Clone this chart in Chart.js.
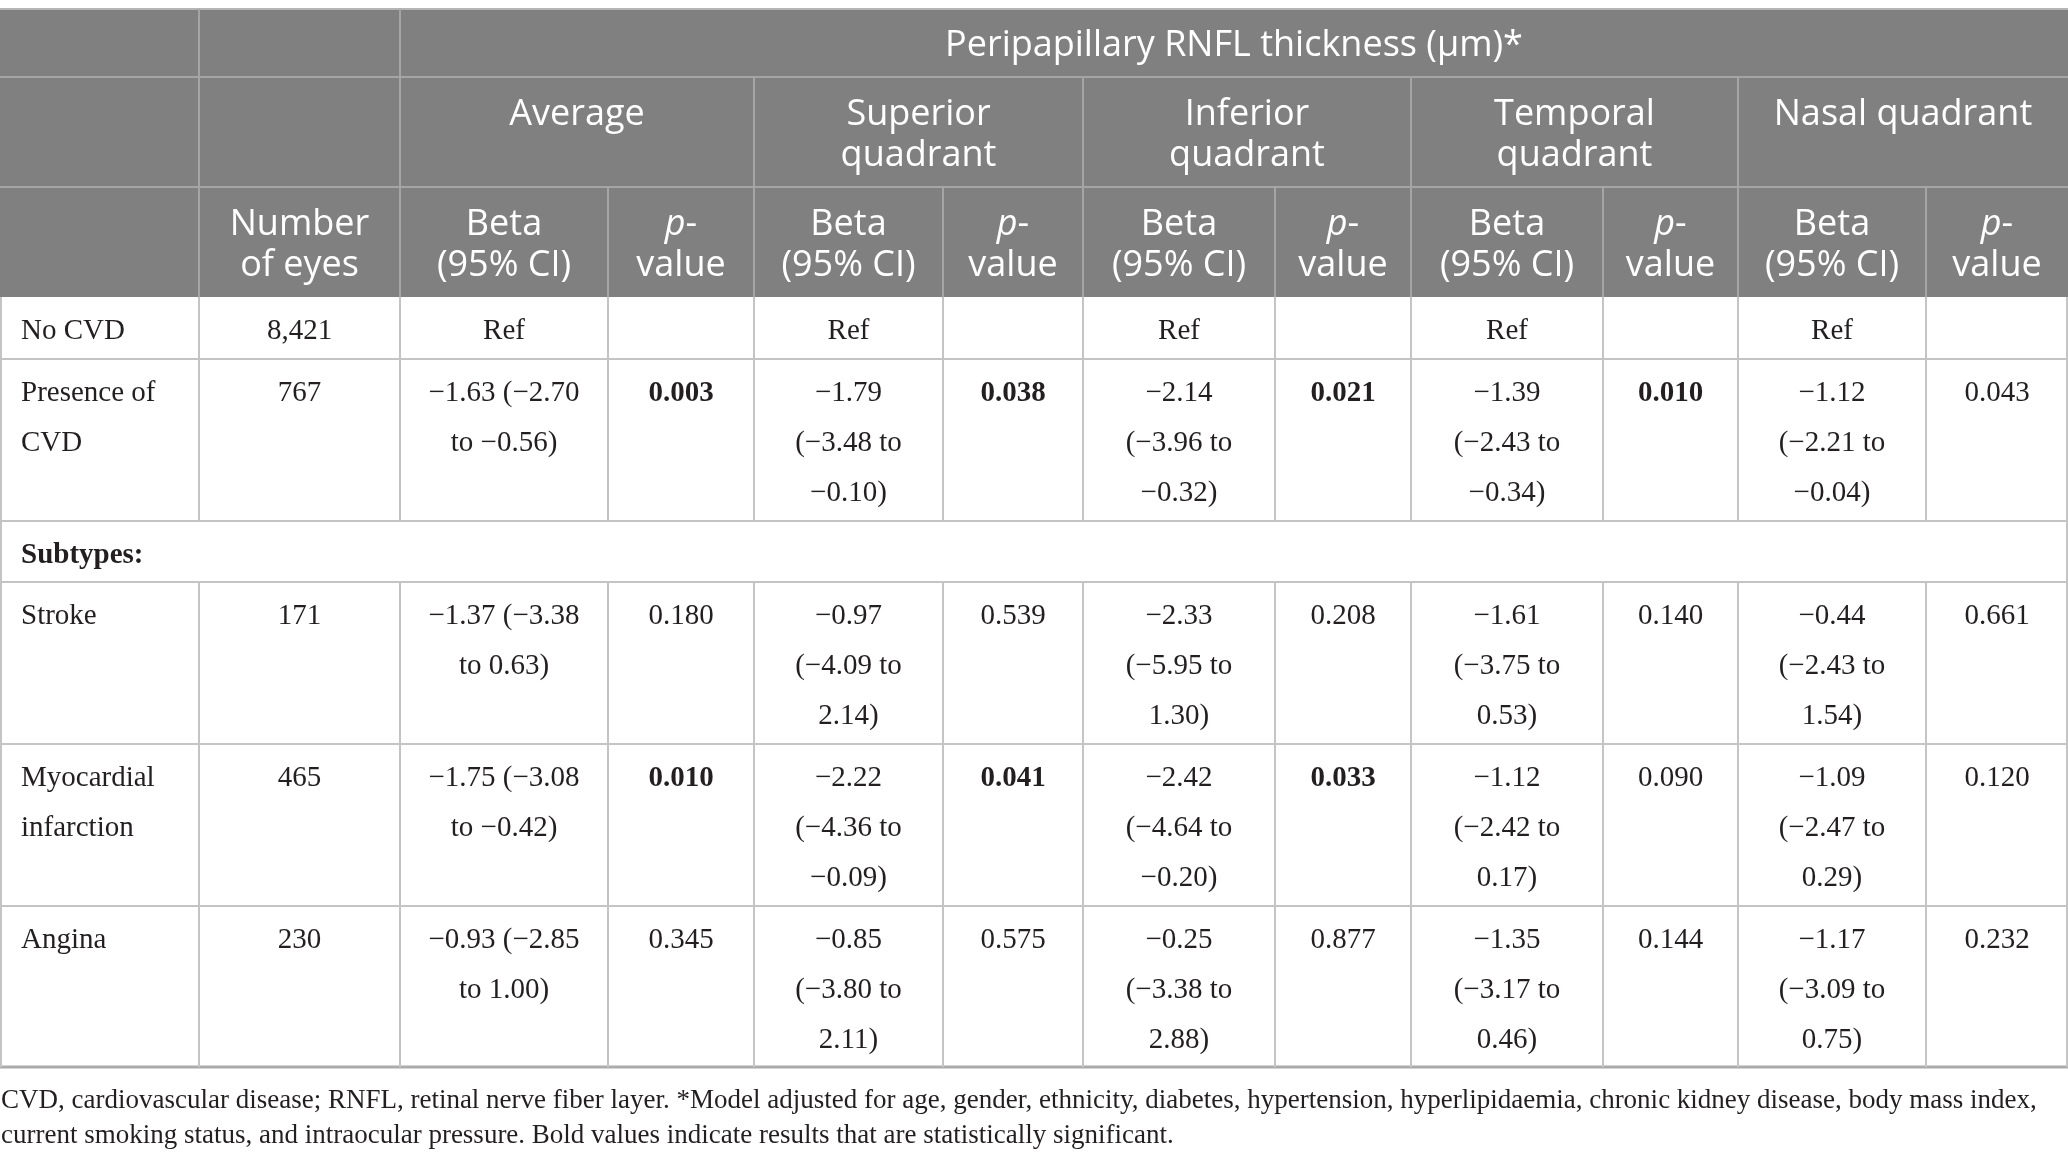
<!DOCTYPE html>
<html>
<head>
<meta charset="utf-8">
<script src="https://cdn.jsdelivr.net/npm/chart.js@4.4.1/dist/chart.umd.min.js"></script>
<style>
html, body { margin: 0; padding: 0; background: #ffffff; }
canvas { display: block; }
</style>
</head>
<body>
<canvas id="rnflTable" width="2068" height="1162"></canvas>
<script>
// Table text
var title = 'Peripapillary RNFL thickness (\u03bcm)*';
var quadrants = ['Average', 'Superior\nquadrant', 'Inferior\nquadrant', 'Temporal\nquadrant', 'Nasal quadrant'];
var groups = ['No CVD', 'Presence of\nCVD', 'Subtypes:', 'Stroke', 'Myocardial\ninfarction', 'Angina'];
var eyes = ['8,421', '767', '', '171', '465', '230'];

// Beta (95% CI) and p-values per quadrant
var avgBeta = ['Ref', '\u22121.63 (\u22122.70\nto \u22120.56)', '', '\u22121.37 (\u22123.38\nto 0.63)', '\u22121.75 (\u22123.08\nto \u22120.42)', '\u22120.93 (\u22122.85\nto 1.00)'];
var avgP = ['', '0.003', '', '0.180', '0.010', '0.345'];
var supBeta = ['Ref', '\u22121.79\n(\u22123.48 to\n\u22120.10)', '', '\u22120.97\n(\u22124.09 to\n2.14)', '\u22122.22\n(\u22124.36 to\n\u22120.09)', '\u22120.85\n(\u22123.80 to\n2.11)'];
var supP = ['', '0.038', '', '0.539', '0.041', '0.575'];
var infBeta = ['Ref', '\u22122.14\n(\u22123.96 to\n\u22120.32)', '', '\u22122.33\n(\u22125.95 to\n1.30)', '\u22122.42\n(\u22124.64 to\n\u22120.20)', '\u22120.25\n(\u22123.38 to\n2.88)'];
var infP = ['', '0.021', '', '0.208', '0.033', '0.877'];
var tempBeta = ['Ref', '\u22121.39\n(\u22122.43 to\n\u22120.34)', '', '\u22121.61\n(\u22123.75 to\n0.53)', '\u22121.12\n(\u22122.42 to\n0.17)', '\u22121.35\n(\u22123.17 to\n0.46)'];
var tempP = ['', '0.010', '', '0.140', '0.090', '0.144'];
var nasBeta = ['Ref', '\u22121.12\n(\u22122.21 to\n\u22120.04)', '', '\u22120.44\n(\u22122.43 to\n1.54)', '\u22121.09\n(\u22122.47 to\n0.29)', '\u22121.17\n(\u22123.09 to\n0.75)'];
var nasP = ['', '0.043', '', '0.661', '0.120', '0.232'];

// p-values printed in bold (statistically significant)
var avgSig = [0, 1, 0, 0, 1, 0];
var supSig = [0, 1, 0, 0, 1, 0];
var infSig = [0, 1, 0, 0, 1, 0];
var tempSig = [0, 1, 0, 0, 0, 0];
var nasSig = [0, 0, 0, 0, 0, 0];

var footnote = [
    'CVD, cardiovascular disease; RNFL, retinal nerve fiber layer. *Model adjusted for age, gender, ethnicity, diabetes, hypertension, hyperlipidaemia, chronic kidney disease, body mass index,',
    'current smoking status, and intraocular pressure. Bold values indicate results that are statistically significant.'
];

// Layout, in scale units (one unit per page pixel)
var colEdges = [0, 199, 400, 608, 754, 943, 1083, 1275, 1411, 1603, 1738, 1926, 2068];
var rowEdges = [9, 77, 187, 297, 359, 521, 582, 744, 906, 1067];
var headFont = '"Open Sans", "Noto Sans", sans-serif';
var bodyFont = '"Liberation Serif", "DejaVu Serif", serif';

var betas = [avgBeta, supBeta, infBeta, tempBeta, nasBeta];
var pvals = [avgP, supP, infP, tempP, nasP];
var sigs = [avgSig, supSig, infSig, tempSig, nasSig];

var tablePlugin = {
    id: 'tablePlugin',
    beforeDatasetsDraw: function (chart) {
        var ctx = chart.ctx;
        var xs = chart.scales.x, ys = chart.scales.y;
        function X(v) { return xs.getPixelForValue(v); }
        function Y(v) { return ys.getPixelForValue(v); }
        function hline(x0, x1, y, col, w) {
            ctx.strokeStyle = col; ctx.lineWidth = w;
            ctx.beginPath(); ctx.moveTo(X(x0), Y(y)); ctx.lineTo(X(x1), Y(y)); ctx.stroke();
        }
        function vline(x, y0, y1, col, w) {
            ctx.strokeStyle = col; ctx.lineWidth = w;
            ctx.beginPath(); ctx.moveTo(X(x), Y(y0)); ctx.lineTo(X(x), Y(y1)); ctx.stroke();
        }
        function lines(text, x0, x1, top, align, font, step, off) {
            ctx.font = font;
            ctx.textAlign = align;
            ctx.textBaseline = 'alphabetic';
            var tx = align === 'left' ? X(x0) + 21 : (X(x0) + X(x1)) / 2;
            text.split('\n').forEach(function (t, i) {
                ctx.fillText(t, tx, Y(top) + off + i * step);
            });
        }
        function pHead(x0, x1, top) {
            var cx = (X(x0) + X(x1)) / 2;
            ctx.font = 'italic 36px ' + headFont;
            var wp = ctx.measureText('p').width;
            ctx.font = '36px ' + headFont;
            var wd = ctx.measureText('-').width;
            var sx = cx - (wp + wd) / 2;
            ctx.textAlign = 'left';
            ctx.font = 'italic 36px ' + headFont;
            ctx.fillText('p', sx, Y(top) + 48);
            ctx.font = '36px ' + headFont;
            ctx.fillText('-', sx + wp, Y(top) + 48);
            ctx.textAlign = 'center';
            ctx.fillText('value', cx, Y(top) + 48 + 41);
        }

        var last = colEdges.length - 1;
        var hTop = rowEdges[0], hMid1 = rowEdges[1], hMid2 = rowEdges[2], hBot = rowEdges[3];

        // header background
        ctx.fillStyle = '#7f807f';
        ctx.fillRect(X(colEdges[0]), Y(hTop), X(colEdges[last]) - X(colEdges[0]), Y(hBot) - Y(hTop));

        // header rules
        var hc = '#a4a5a4';
        hline(colEdges[0], colEdges[last], hTop, '#b5b5b5', 2);
        hline(colEdges[0], colEdges[last], hMid1, hc, 2);
        hline(colEdges[0], colEdges[last], hMid2, hc, 2);
        [1, 2].forEach(function (c) { vline(colEdges[c], hTop, hMid1, hc, 2); });
        [1, 2, 4, 6, 8, 10].forEach(function (c) { vline(colEdges[c], hMid1, hMid2, hc, 2); });
        for (var c = 1; c < last; c++) vline(colEdges[c], hMid2, hBot, hc, 2);

        // body rules
        var bc = '#c4c4c4';
        for (var r = 4; r < rowEdges.length - 1; r++) hline(colEdges[0], colEdges[last], rowEdges[r], bc, 2);
        hline(colEdges[0], colEdges[last], rowEdges[rowEdges.length - 1], '#ababab', 3);
        for (var i = 0; i <= last; i++) {
            var x = i === 0 ? 1 : (i === last ? colEdges[last] - 1 : colEdges[i]);
            if (i === 0 || i === last) {
                vline(x, hBot, rowEdges[rowEdges.length - 1], bc, 2);
            } else {
                vline(x, hBot, rowEdges[5], bc, 2);
                vline(x, rowEdges[6], rowEdges[rowEdges.length - 1], bc, 2);
            }
        }

        // header text
        ctx.fillStyle = '#ffffff';
        var hf = '36px ' + headFont;
        lines(title, colEdges[2], colEdges[last], hTop, 'center', hf, 41, 47);
        quadrants.forEach(function (q, k) {
            lines(q, colEdges[2 + 2 * k], colEdges[4 + 2 * k], hMid1, 'center', hf, 41, 48);
        });
        lines('Number\nof eyes', colEdges[1], colEdges[2], hMid2, 'center', hf, 41, 48);
        for (var k = 0; k < quadrants.length; k++) {
            lines('Beta\n(95% CI)', colEdges[2 + 2 * k], colEdges[3 + 2 * k], hMid2, 'center', hf, 41, 48);
            pHead(colEdges[3 + 2 * k], colEdges[4 + 2 * k], hMid2);
        }

        // body text
        ctx.fillStyle = '#231f20';
        var bf = '29px ' + bodyFont;
        var bb = 'bold 29px ' + bodyFont;
        groups.forEach(function (g, r) {
            var top = rowEdges[3 + r];
            lines(g, colEdges[0], colEdges[1], top, 'left', g === 'Subtypes:' ? bb : bf, 50, 42);
            lines(eyes[r], colEdges[1], colEdges[2], top, 'center', bf, 50, 42);
            for (var k = 0; k < betas.length; k++) {
                lines(betas[k][r], colEdges[2 + 2 * k], colEdges[3 + 2 * k], top, 'center', bf, 50, 42);
                lines(pvals[k][r], colEdges[3 + 2 * k], colEdges[4 + 2 * k], top, 'center', sigs[k][r] ? bb : bf, 50, 42);
            }
        });

        // footnote
        ctx.textAlign = 'left';
        ctx.font = '27px ' + bodyFont;
        ctx.fillText(footnote[0], X(1), Y(1108));
        ctx.fillText(footnote[1], X(1), Y(1143));
    }
};

new Chart(document.getElementById('rnflTable'), {
    type: 'scatter',
    data: { datasets: [{ data: [], pointRadius: 0 }] },
    options: {
        responsive: false,
        devicePixelRatio: 1,
        animation: false,
        layout: { padding: 0 },
        plugins: { legend: { display: false }, tooltip: { enabled: false } },
        scales: {
            x: { type: 'linear', min: 0, max: 2068, display: false },
            y: { type: 'linear', min: 0, max: 1162, reverse: true, display: false }
        }
    },
    plugins: [tablePlugin]
});
</script>
</body>
</html>
